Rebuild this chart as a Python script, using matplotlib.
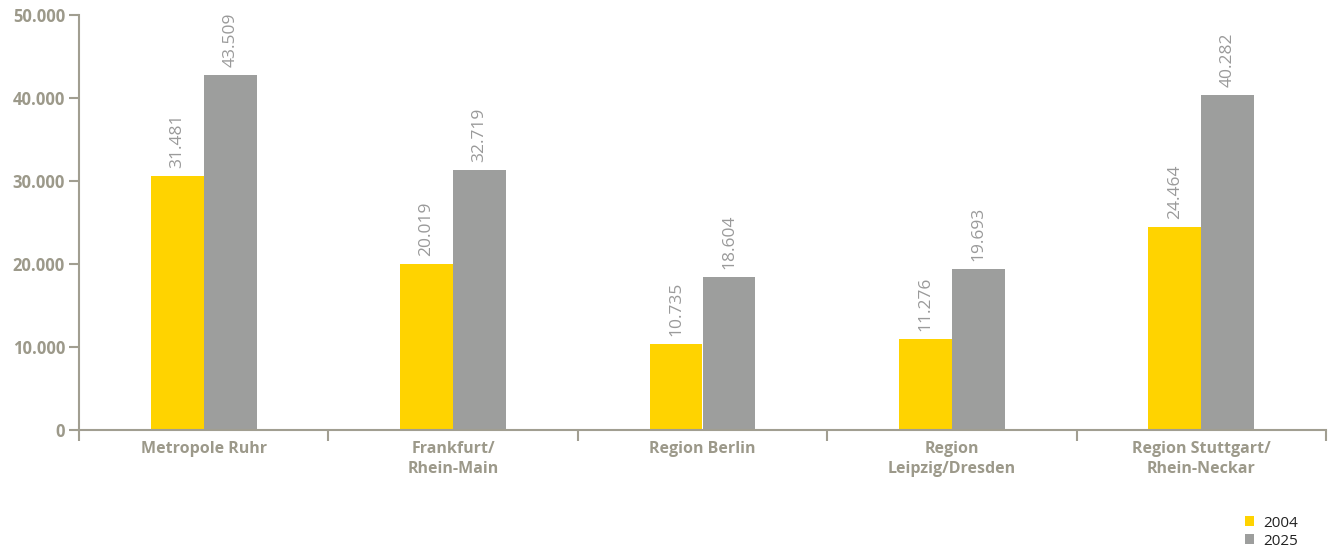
import matplotlib.pyplot as plt
import numpy as np

plt.rcParams['font.family'] = ['Open Sans', 'DejaVu Sans']

regions = ['Metropole Ruhr', 'Frankfurt/\nRhein-Main', 'Region Berlin',
           'Region\nLeipzig/Dresden', 'Region Stuttgart/\nRhein-Neckar']
# bar heights as drawn in the chart
v2004 = [30600, 20000, 10350, 10950, 24450]
v2025 = [42770, 31300, 18400, 19400, 40350]
# printed labels
lab2004 = ['31.481', '20.019', '10.735', '11.276', '24.464']
lab2025 = ['43.509', '32.719', '18.604', '19.693', '40.282']
yticks = [0, 10000, 20000, 30000, 40000, 50000]

yellow = '#FFD300'
grey = '#9D9E9D'
axcol = '#A19E91'
tickcol = '#9C998A'

fig = plt.figure(figsize=(13.3, 5.49), dpi=100)
ax = fig.add_axes([79/1330, 1-430/549, (1326-79)/1330, (430-15)/549])

x = np.arange(len(regions)) + 0.5
w = 0.2125
b1 = ax.bar(x - w/2, v2004, w, color=yellow, linewidth=0, label='2004')
b2 = ax.bar(x + w/2, v2025, w, color=grey, linewidth=0, label='2025')

for bars, labs in ((b1, lab2004), (b2, lab2025)):
    for r, t in zip(bars, labs):
        ax.annotate(t, (r.get_x() + r.get_width()/2, r.get_height()),
                    xytext=(0, 6), textcoords='offset points',
                    rotation=90, ha='center', va='bottom',
                    fontsize=12.5, color='#9A9A9A')

ax.set_xlim(0, len(regions))
ax.set_ylim(0, 50000)
ax.set_yticks(yticks)
ax.set_yticklabels([f'{v:,}'.replace(',', '.') for v in yticks],
                   fontsize=12, fontweight='bold', color=tickcol)
ax.set_xticks(np.arange(len(regions) + 1))
ax.set_xticklabels([])
ax.set_xticks(x, minor=True)
ax.set_xticklabels(regions, minor=True, fontsize=11.5, fontweight='bold',
                   color=tickcol, linespacing=1.3)
ax.tick_params(axis='x', which='minor', length=0, pad=8)
ax.tick_params(axis='x', which='major', length=8, width=1.5, color=axcol, direction='out')
ax.tick_params(axis='y', length=7, width=1.5, color=axcol, pad=3)

for s in ('top', 'right'):
    ax.spines[s].set_visible(False)
for s in ('left', 'bottom'):
    ax.spines[s].set_color(axcol)
    ax.spines[s].set_linewidth(1.5)

leg = fig.legend(handles=[b1, b2], loc='upper left',
                 bbox_to_anchor=(1237/1330, 1-508/549), frameon=False,
                 fontsize=11, handlelength=0.6, handleheight=0.6,
                 handletextpad=0.6, labelspacing=0.2, borderpad=0)
for t in leg.get_texts():
    t.set_color('#222222')

fig.savefig('out.png', dpi=100)
